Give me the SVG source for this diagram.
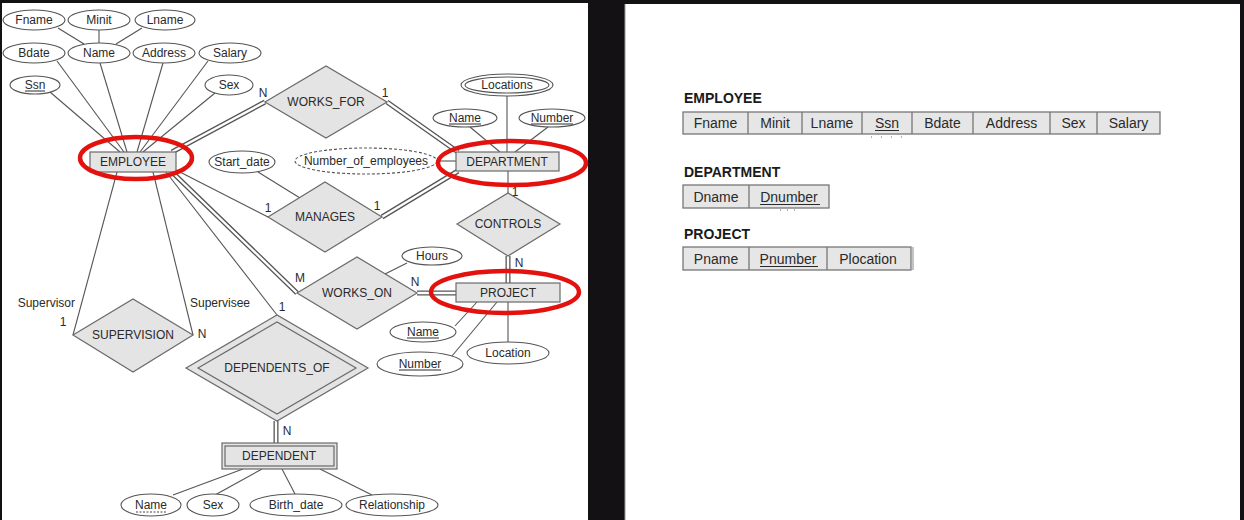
<svg xmlns="http://www.w3.org/2000/svg" width="1244" height="520" viewBox="0 0 1244 520">
<style>
text{font-family:"Liberation Sans",Arial,sans-serif;fill:#2a2a2a;font-size:12px}
.c{text-anchor:middle}
.ent{fill:#e4e4e4;stroke:#6a6a6a;stroke-width:1.2}
.rel{fill:#e4e4e4;stroke:#6a6a6a;stroke-width:1.2}
.attr{fill:#fff;stroke:#555;stroke-width:1.1}
.ln{stroke:#555;stroke-width:1.1;fill:none}
.dO{stroke:#555;stroke-width:5;fill:none}
.dI{stroke:#fff;stroke-width:2.4;fill:none}
.red{fill:none;stroke:#e3120f;stroke-width:4.5}
.ul{stroke:#2a2a2a;stroke-width:1;fill:none}
.h{font-weight:bold;font-size:14px;fill:#1a1a1a}
.cell{fill:#e6e6e6;stroke:#777;stroke-width:1.3}
.tt{font-size:14px;text-anchor:middle;fill:#2a2a2a}
.dv{stroke:#777;stroke-width:1.3}
</style>
<rect x="0" y="0" width="1244" height="520" fill="#141114"/>
<rect x="2" y="3" width="586" height="517" fill="#fff"/>
<rect x="625" y="4" width="615" height="516" fill="#fff"/>
<line x1="625" y1="4" x2="625" y2="520" stroke="#999" stroke-width="1"/>

<g id="connectors">
<line class="ln" x1="58" y1="28" x2="84" y2="44"/>
<line class="ln" x1="99" y1="30" x2="99" y2="43"/>
<line class="ln" x1="142" y1="28" x2="116" y2="44"/>
<line class="ln" x1="57" y1="61" x2="124" y2="152"/>
<line class="ln" x1="100" y1="63" x2="127" y2="152"/>
<line class="ln" x1="163" y1="63" x2="137" y2="152"/>
<line class="ln" x1="208" y1="61" x2="140" y2="152"/>
<line class="ln" x1="50" y1="92" x2="120" y2="152"/>
<line class="ln" x1="215" y1="93" x2="143" y2="152"/>
<line class="ln" x1="507" y1="96" x2="507" y2="152"/>
<line class="ln" x1="470" y1="127" x2="500" y2="152"/>
<line class="ln" x1="548" y1="127" x2="515" y2="152"/>
<line class="ln" x1="437" y1="161" x2="456" y2="161"/>
<line class="ln" x1="258" y1="172" x2="300" y2="198"/>
<line class="ln" x1="176" y1="170" x2="268" y2="217"/>
<line class="ln" x1="508" y1="171" x2="508" y2="193"/>
<line class="ln" x1="407" y1="263" x2="385" y2="274"/>
<line class="ln" x1="455" y1="326" x2="477" y2="302"/>
<line class="ln" x1="452" y1="356" x2="497" y2="302"/>
<line class="ln" x1="508" y1="302" x2="508" y2="342"/>
<line class="ln" x1="166" y1="172" x2="277" y2="315"/>
<line class="ln" x1="117" y1="172" x2="73" y2="335"/>
<line class="ln" x1="153" y1="172" x2="193" y2="335"/>
<line class="ln" x1="173" y1="495" x2="243" y2="469"/>
<line class="ln" x1="215" y1="495" x2="262" y2="469"/>
<line class="ln" x1="295" y1="494" x2="282" y2="469"/>
<line class="ln" x1="372" y1="495" x2="320" y2="469"/>
<g>
<path class="dO" d="M172 152L265 102M387 102L458 152M382 217L458 171M508 256L508 283M417 293L456 293M172 172L297 293M276 421L276 443"/>
<path class="dI" d="M172 152L265 102M387 102L458 152M382 217L458 171M508 256L508 283M417 293L456 293M172 172L297 293M276 421L276 443"/>
</g>
<text x="263" y="97" class="c">N</text>
<text x="385" y="97" class="c">1</text>
<text x="268" y="212" class="c">1</text>
<text x="377" y="210" class="c">1</text>
<text x="515" y="196" class="c">1</text>
<text x="519" y="267" class="c">N</text>
<text x="415" y="286" class="c">N</text>
<text x="300" y="282" class="c">M</text>
<text x="282" y="311" class="c">1</text>
<text x="287" y="435" class="c">N</text>
<text x="75" y="307" text-anchor="end">Supervisor</text>
<text x="63" y="326" class="c">1</text>
<text x="190" y="307">Supervisee</text>
<text x="202" y="338" class="c">N</text>
</g>

<g id="attr-fname"><ellipse class="attr" cx="34" cy="20" rx="31" ry="10"/><text x="34" y="24" class="c">Fname</text></g>
<g id="attr-minit"><ellipse class="attr" cx="99" cy="20" rx="31" ry="10"/><text x="99" y="24" class="c">Minit</text></g>
<g id="attr-lname"><ellipse class="attr" cx="165" cy="20" rx="30" ry="10"/><text x="165" y="24" class="c">Lname</text></g>
<g id="attr-bdate"><ellipse class="attr" cx="34" cy="53" rx="31" ry="10"/><text x="34" y="57" class="c">Bdate</text></g>
<g id="attr-name"><ellipse class="attr" cx="99" cy="53" rx="31" ry="10"/><text x="99" y="57" class="c">Name</text></g>
<g id="attr-address"><ellipse class="attr" cx="164" cy="53" rx="31" ry="10"/><text x="164" y="57" class="c">Address</text></g>
<g id="attr-salary"><ellipse class="attr" cx="230" cy="53" rx="31" ry="10"/><text x="230" y="57" class="c">Salary</text></g>
<g id="attr-ssn"><ellipse class="attr" cx="35" cy="85" rx="25" ry="9"/><text x="35" y="89" class="c">Ssn</text><line class="ul" x1="25" y1="91" x2="45" y2="91"/></g>
<g id="attr-sex"><ellipse class="attr" cx="229" cy="85" rx="24" ry="10"/><text x="229" y="89" class="c">Sex</text></g>

<g id="employee"><rect class="ent" x="90" y="152" width="86" height="20"/><text x="133" y="166" class="c">EMPLOYEE</text></g>

<g id="works-for"><polygon class="rel" points="265,102 326,66 387,102 326,138"/><text x="326" y="106" class="c">WORKS_FOR</text></g>

<g id="attr-locations"><ellipse class="attr" cx="507" cy="85" rx="46" ry="11"/><ellipse class="attr" cx="507" cy="85" rx="42" ry="8"/><text x="507" y="89" class="c">Locations</text></g>
<g id="attr-dname"><ellipse class="attr" cx="465" cy="118" rx="32" ry="9"/><text x="465" y="122" class="c">Name</text><line class="ul" x1="449" y1="124" x2="481" y2="124"/></g>
<g id="attr-dnumber"><ellipse class="attr" cx="552" cy="118" rx="33" ry="9"/><text x="552" y="122" class="c">Number</text><line class="ul" x1="531" y1="124" x2="573" y2="124"/></g>
<g id="attr-numemp"><ellipse class="attr" cx="366" cy="161" rx="71" ry="13" stroke-dasharray="3,2"/><text x="366" y="165" class="c">Number_of_employees</text></g>

<g id="department"><rect class="ent" x="456" y="152" width="103" height="19"/><text x="507" y="166" class="c">DEPARTMENT</text></g>

<g id="attr-startdate"><ellipse class="attr" cx="242" cy="162" rx="33" ry="11"/><text x="242" y="166" class="c">Start_date</text></g>
<g id="manages"><polygon class="rel" points="268,217 325,182 382,217 325,252"/><text x="325" y="221" class="c">MANAGES</text></g>
<g id="controls"><polygon class="rel" points="457,224 508,193 560,224 508,256"/><text x="508" y="228" class="c">CONTROLS</text></g>

<g id="attr-hours"><ellipse class="attr" cx="432" cy="256" rx="30" ry="9"/><text x="432" y="260" class="c">Hours</text></g>
<g id="works-on"><polygon class="rel" points="297,293 357,257 417,293 357,329"/><text x="357" y="297" class="c">WORKS_ON</text></g>
<g id="project"><rect class="ent" x="456" y="283" width="104" height="19"/><text x="508" y="297" class="c">PROJECT</text></g>
<g id="attr-pname"><ellipse class="attr" cx="423" cy="332" rx="33" ry="10"/><text x="423" y="336" class="c">Name</text><line class="ul" x1="407" y1="338" x2="439" y2="338"/></g>
<g id="attr-pnumber"><ellipse class="attr" cx="420" cy="364" rx="43" ry="12"/><text x="420" y="368" class="c">Number</text><line class="ul" x1="399" y1="370" x2="441" y2="370"/></g>
<g id="attr-location"><ellipse class="attr" cx="508" cy="353" rx="41" ry="11"/><text x="508" y="357" class="c">Location</text></g>

<g id="supervision"><polygon class="rel" points="73,335 133,299 193,335 133,372"/><text x="133" y="339" class="c">SUPERVISION</text></g>

<g id="dependents-of"><polygon class="rel" points="186,368 277,315 368,368 277,421"/><polygon class="rel" points="198,368 277,322 356,368 277,414"/><text x="277" y="372" class="c">DEPENDENTS_OF</text></g>

<g id="dependent"><rect class="ent" x="222" y="443" width="115" height="26"/><rect class="ent" x="225" y="446" width="109" height="20"/><text x="279" y="460" class="c">DEPENDENT</text></g>

<g id="attr-depname"><ellipse class="attr" cx="151" cy="505" rx="30" ry="11"/><text x="151" y="509" class="c">Name</text><line x1="136" y1="512" x2="166" y2="512" stroke="#444" stroke-width="1" stroke-dasharray="2,1.5"/></g>
<g id="attr-depsex"><ellipse class="attr" cx="213" cy="505" rx="26" ry="11"/><text x="213" y="509" class="c">Sex</text></g>
<g id="attr-birthdate"><ellipse class="attr" cx="296" cy="505" rx="46" ry="11"/><text x="296" y="509" class="c">Birth_date</text></g>
<g id="attr-relationship"><ellipse class="attr" cx="392" cy="505" rx="46" ry="11"/><text x="392" y="509" class="c">Relationship</text></g>

<g id="highlights">
<ellipse class="red" cx="136" cy="158" rx="56" ry="21"/>
<ellipse class="red" cx="512" cy="163" rx="74" ry="22"/>
<ellipse class="red" cx="505" cy="292" rx="74" ry="21"/>
</g>

<g id="rel-employee">
<text x="684" y="103" class="h">EMPLOYEE</text>
<rect class="cell" x="683" y="112" width="477" height="22"/>
<path class="dv" d="M748 112V134M802 112V134M862 112V134M912 112V134M973 112V134M1050 112V134M1097 112V134"/>
<text x="715.5" y="128" class="tt">Fname</text>
<text x="775" y="128" class="tt">Minit</text>
<text x="832" y="128" class="tt">Lname</text>
<text x="887" y="128" class="tt">Ssn</text>
<line class="ul" x1="875" y1="130.5" x2="899" y2="130.5"/>
<text x="942.5" y="128" class="tt">Bdate</text>
<text x="1011.5" y="128" class="tt">Address</text>
<text x="1073.5" y="128" class="tt">Sex</text>
<text x="1128.5" y="128" class="tt">Salary</text>
<path d="M871 137h1M881 137h1M891 137h1M901 137h1" stroke="#666" stroke-width="1"/>
</g>

<g id="rel-department">
<text x="684" y="177" class="h">DEPARTMENT</text>
<rect class="cell" x="683" y="185" width="146" height="23"/>
<path class="dv" d="M749 185V208"/>
<text x="716" y="202" class="tt">Dname</text>
<text x="789" y="202" class="tt">Dnumber</text>
<line class="ul" x1="760" y1="204.5" x2="820" y2="204.5"/>
<path d="M780 210h1M787 210h1M794 210h1" stroke="#666" stroke-width="1"/>
</g>

<g id="rel-project">
<text x="684" y="239" class="h">PROJECT</text>
<rect class="cell" x="683" y="247" width="228" height="23"/>
<path class="dv" d="M749 247V270M827 247V270"/>
<line x1="913" y1="247" x2="913" y2="270" stroke="#888" stroke-width="1"/>
<text x="716" y="264" class="tt">Pname</text>
<text x="788" y="264" class="tt">Pnumber</text>
<line class="ul" x1="760" y1="266.5" x2="818" y2="266.5"/>
<text x="868" y="264" class="tt">Plocation</text>
</g>
</svg>
